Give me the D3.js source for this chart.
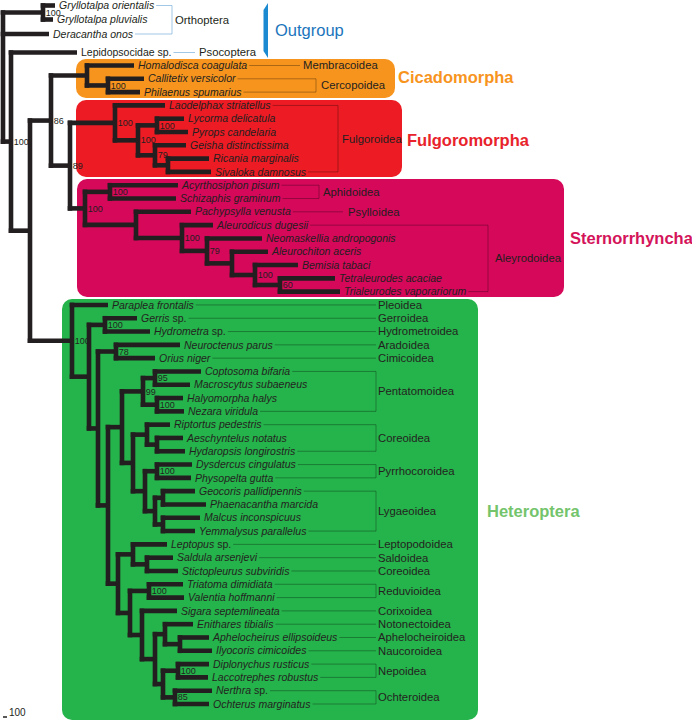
<!DOCTYPE html>
<html><head><meta charset="utf-8">
<script src="https://cdn.jsdelivr.net/npm/d3@7"></script>
<style>body{margin:0;background:#fff}svg{display:block}</style>
</head><body>
<script>
// ---------- DATA ----------
const taxa = ["Gryllotalpa orientalis","Gryllotalpa pluvialis","Deracantha onos","Lepidopsocidae sp.","Homalodisca coagulata","Callitetix versicolor","Philaenus spumarius","Laodelphax striatellus","Lycorma delicatula","Pyrops candelaria","Geisha distinctissima","Ricania marginalis","Sivaloka damnosus","Acyrthosiphon pisum","Schizaphis graminum","Pachypsylla venusta","Aleurodicus dugesii","Neomaskellia andropogonis","Aleurochiton aceris","Bemisia tabaci","Tetraleurodes acaciae","Trialeurodes vaporariorum","Paraplea frontalis","Gerris sp.","Hydrometra sp.","Neuroctenus parus","Orius niger","Coptosoma bifaria","Macroscytus subaeneus","Halyomorpha halys","Nezara viridula","Riptortus pedestris","Aeschyntelus notatus","Hydaropsis longirostris","Dysdercus cingulatus","Physopelta gutta","Geocoris pallidipennis","Phaenacantha marcida","Malcus inconspicuus","Yemmalysus parallelus","Leptopus sp.","Saldula arsenjevi","Stictopleurus subviridis","Triatoma dimidiata","Valentia hoffmanni","Sigara septemlineata","Enithares tibialis","Aphelocheirus ellipsoideus","Ilyocoris cimicoides","Diplonychus rusticus","Laccotrephes robustus","Nerthra sp.","Ochterus marginatus"];
// cumulative distance from root to each tip
const tipDepth = [52,50,46,74,131,141,137,162,181,185,183,206,208,175,173,188,210,259,265,295,332,337,105,134,147,177,152,198,187,180,181,167,180,182,189,188,192,203,197,192,164,170,175,180,181,174,190,206,209,206,205,209,206];
// internal nodes: [id, cumulative depth, support, children...]
const internalNodes = [
 ["root",0,"","Gry","t2","LH"],
 ["Gry",40,"100","t0","t1"],
 ["LH",8,"100","t3","Hem"],
 ["Hem",27,"","A86","Het"],
 ["A86",48,"86","Cic","A89"],
 ["Cic",84,"","t4","Cer"],
 ["Cer",105,"100","t5","t6"],
 ["A89",67,"89","Ful","Ste"],
 ["Ful",112,"100","t7","F2"],
 ["F2",135,"100","F3","F4"],
 ["F3",154,"100","t8","t9"],
 ["F4",152,"79","t10","F5"],
 ["F5",165,"","t11","t12"],
 ["Ste",82,"100","Aph","S2"],
 ["Aph",107,"100","t13","t14"],
 ["S2",133,"","t15","Ale"],
 ["Ale",179,"100","t16","A2"],
 ["A2",204,"79","t17","A3"],
 ["A3",229,"","t18","A4"],
 ["A4",252,"100","t19","A5"],
 ["A5",277,"60","t20","t21"],
 ["Het",69,"100","t22","H2"],
 ["H2",86,"","Ger","H3"],
 ["Ger",102,"100","t23","t24"],
 ["H3",95,"","Cim","H4"],
 ["Cim",113,"78","t25","t26"],
 ["H4",105,"","H5","H6"],
 ["H5",119,"","Pen","H7"],
 ["Pen",140,"99","P1","P2"],
 ["P1",152,"95","t27","t28"],
 ["P2",154,"100","t29","t30"],
 ["H7",130,"","Cor","H8"],
 ["Cor",144,"","t31","C2"],
 ["C2",154,"","t32","t33"],
 ["H8",142,"","Pyr","Lyg"],
 ["Pyr",154,"100","t34","t35"],
 ["Lyg",152,"","L1","L2"],
 ["L1",160,"","t36","t37"],
 ["L2",160,"","t38","t39"],
 ["H6",115,"","Lep","H9"],
 ["Lep",130,"","t40","Sal"],
 ["Sal",144,"","t41","t42"],
 ["H9",127,"","Red","Nep"],
 ["Red",146,"100","t43","t44"],
 ["Nep",139,"","t45","N2"],
 ["N2",152,"","N3","N4"],
 ["N3",162,"","t46","Nau"],
 ["Nau",177,"","t47","t48"],
 ["N4",160,"","Ne","Och"],
 ["Ne",175,"100","t49","t50"],
 ["Och",172,"85","t51","t52"]
];
// superfamily / order labels: [label, first taxon, last taxon]
const groupLabels = [
 ["Orthoptera",0,2],["Psocoptera",3,3],["Membracoidea",4,4],["Cercopoidea",5,6],
 ["Fulgoroidea",7,12],["Aphidoidea",13,14],["Psylloidea",15,15],["Aleyrodoidea",16,21],
 ["Pleoidea",22,22],["Gerroidea",23,23],["Hydrometroidea",24,24],["Aradoidea",25,25],
 ["Cimicoidea",26,26],["Pentatomoidea",27,30],["Coreoidea",31,33],["Pyrrhocoroidea",34,35],
 ["Lygaeoidea",36,39],["Leptopodoidea",40,40],["Saldoidea",41,41],["Coreoidea",42,42],
 ["Reduvioidea",43,44],["Corixoidea",45,45],["Notonectoidea",46,46],["Aphelocheiroidea",47,47],
 ["Naucoroidea",48,48],["Nepoidea",49,50],["Ochteroidea",51,52]
];
// major clades: [name, first taxon, last taxon]
const clades = [["Cicadomorpha",4,6],["Fulgoromorpha",7,12],["Sternorrhyncha",13,21],["Heteroptera",22,52]];
const outgroupLabel = "Outgroup";
const scaleLabel = "100";

// ---------- LAYOUT / STYLE ----------
const W = 692, H = 724;
const font = "'Liberation Sans', Arial, Helvetica, sans-serif";
const ink = "#231f20";
const branchW = 4.6;
const boxStyle = {
 Cicadomorpha:{fill:"#f7941d",label:"#f7941d",x:76,y:59,w:319,h:39,lx:398,ly:77},
 Fulgoromorpha:{fill:"#ed1c24",label:"#e8232b",x:76,y:100,w:326,h:77,lx:407,ly:140},
 Sternorrhyncha:{fill:"#d6085a",label:"#d4145a",x:77,y:179,w:487,h:118,lx:570,ly:238},
 Heteroptera:{fill:"#25b34b",label:"#74c46c",x:62,y:299,w:416,h:421,lx:487,ly:511}
};
const labelLayout = {
 Orthoptera:{bx:172,tx:175,c:"#8cb9e0"}, Psocoptera:{bx:195,tx:199,c:"#8cb9e0"},
 Membracoidea:{bx:300,tx:303}, Cercopoidea:{bx:316,tx:321}, Fulgoroidea:{bx:338,tx:342},
 Aphidoidea:{bx:319,tx:323}, Psylloidea:{bx:343,tx:348}, Aleyrodoidea:{bx:488,tx:495}
};
const defaultLabel = {bx:376,tx:378};

const svg = d3.select("body").append("svg").attr("width",W).attr("height",H);

const x = d3.scaleLinear().domain([0,100]).range([3,103]);
const y = d3.scaleLinear().domain([0,1,2,3,4,52]).range([5.5,19.5,34,52.5,65.5,704]);

// build tree
const nodes = {};
taxa.forEach((t,i)=>{ nodes["t"+i] = {id:"t"+i, depth:tipDepth[i], leaf:true, idx:i, name:t}; });
internalNodes.forEach(r=>{ nodes[r[0]] = {id:r[0], depth:r[1], support:r[2], kids:r.slice(3)}; });
function ypos(n){
  if(n.leaf) return n.y = y(n.idx);
  const ys = n.kids.map(k=>ypos(nodes[k]));
  n.ymin = d3.min(ys); n.ymax = d3.max(ys);
  return n.y = (n.ymin+n.ymax)/2;
}
ypos(nodes.root);

// boxes
const gBox = svg.append("g");
clades.forEach(c=>{
  const s = boxStyle[c[0]];
  gBox.append("rect").attr("x",s.x).attr("y",s.y).attr("width",s.w).attr("height",s.h)
    .attr("rx",10).attr("fill",s.fill);
  svg.append("text").attr("x",s.lx).attr("y",s.ly).attr("dy","0.35em")
    .attr("font-family",font).attr("font-weight","bold").attr("font-size",16.5)
    .attr("fill",s.label).text(c[0]);
});

// outgroup bracket
svg.append("path").attr("d","M268,3 L268,58 L263.5,51 L263.5,10 Z").attr("fill","#1b8ad0");
svg.append("text").attr("x",275).attr("y",30).attr("dy","0.35em").attr("font-family",font)
  .attr("font-size",16.5).attr("fill","#1b75bc").text(outgroupLabel);

// tip labels
const gTips = svg.append("g");
const tipEnd = [];
taxa.forEach((t,i)=>{
  const n = nodes["t"+i];
  const tx = gTips.append("text").attr("x",x(n.depth)+4).attr("y",n.y).attr("dy","0.35em")
    .attr("font-family",font).attr("font-size",10.5).attr("fill",ink);
  if(t==="Lepidopsocidae sp."){ tx.text(t); }
  else if(t.endsWith(" sp.")){
    tx.append("tspan").attr("font-style","italic").text(t.replace(" sp.",""));
    tx.append("tspan").text(" sp.");
  } else tx.attr("font-style","italic").text(t);
  tipEnd[i] = x(n.depth)+4+tx.node().getComputedTextLength();
});

// group labels and guide lines
const gGuide = svg.append("g").attr("fill","none");
groupLabels.forEach(g=>{
  const L = labelLayout[g[0]] || defaultLabel;
  const col = L.c || "rgba(0,0,0,0.38)";
  const members = g[0]==="Orthoptera" ? [g[1],g[2]] : (g[1]===g[2]?[g[1]]:[g[1],g[2]]);
  members.forEach(i=>{
    gGuide.append("line").attr("x1",tipEnd[i]+2).attr("x2",L.bx).attr("y1",y(i)).attr("y2",y(i))
      .attr("stroke",col).attr("stroke-width",0.8);
  });
  if(g[1]!==g[2]){
    gGuide.append("line").attr("x1",L.bx).attr("x2",L.bx).attr("y1",y(g[1])).attr("y2",y(g[2]))
      .attr("stroke",col).attr("stroke-width",0.8);
  }
  svg.append("text").attr("x",L.tx).attr("y",(y(g[1])+y(g[2]))/2).attr("dy","0.35em")
    .attr("font-family",font).attr("font-size",11.3).attr("fill",ink).text(g[0]);
});

// branches
const gBr = svg.append("g").attr("stroke",ink).attr("stroke-width",branchW).attr("fill","none");
Object.values(nodes).filter(n=>!n.leaf).forEach(n=>{
  const nx = x(n.depth);
  gBr.append("line").attr("x1",nx).attr("x2",nx).attr("y1",n.ymin-branchW/2).attr("y2",n.ymax+branchW/2);
  n.kids.forEach(k=>{
    const c = nodes[k];
    gBr.append("line").attr("x1",nx-branchW/2).attr("x2",x(c.depth)).attr("y1",c.y).attr("y2",c.y);
  });
});
// support values
Object.values(nodes).filter(n=>!n.leaf && n.support).forEach(n=>{
  svg.append("text").attr("x",x(n.depth)+branchW/2+0.5).attr("y",n.y).attr("dy","0.35em")
    .attr("font-family",font).attr("font-size",9).attr("fill",ink).text(n.support);
});

// scale bar
svg.append("line").attr("x1",3).attr("x2",7).attr("y1",717).attr("y2",717).attr("stroke",ink).attr("stroke-width",1.5);
svg.append("text").attr("x",9).attr("y",716).attr("font-family",font).attr("font-size",10).attr("fill",ink).text(scaleLabel);
</script>
</body></html>
